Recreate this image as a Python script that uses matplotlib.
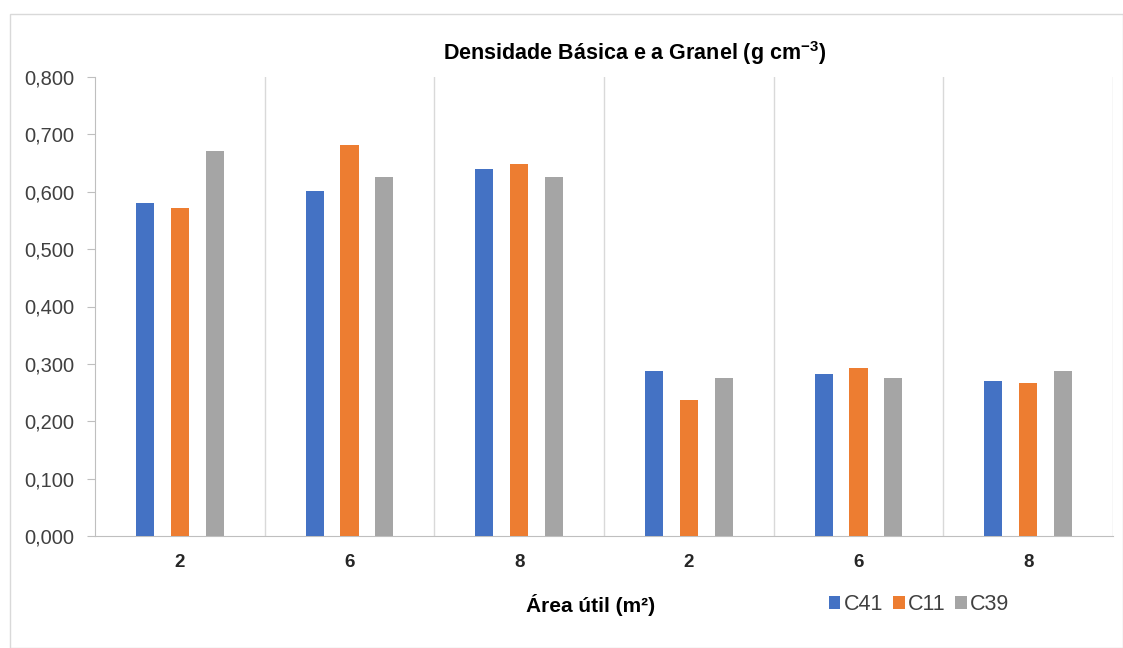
import matplotlib.pyplot as plt
import matplotlib.patches as patches
import numpy as np

categories = ["2", "6", "8", "2", "6", "8"]
series_names = ["C41", "C11", "C39"]
c41 = [0.581, 0.602, 0.640, 0.288, 0.283, 0.270]
c11 = [0.571, 0.681, 0.648, 0.237, 0.293, 0.267]
c39 = [0.671, 0.625, 0.625, 0.275, 0.275, 0.288]
colors = ["#4472C4", "#ED7D31", "#A5A5A5"]

plt.rcParams['font.family'] = ['Liberation Sans', 'DejaVu Sans']
plt.rcParams['mathtext.fontset'] = 'custom'
plt.rcParams['mathtext.rm'] = 'Liberation Sans'
plt.rcParams['mathtext.bf'] = 'Liberation Sans:bold'

fig = plt.figure(figsize=(11.23, 6.48), dpi=100)
ax = fig.add_axes([95/1123, 1-536/648, (1113-95)/1123, (536-77)/648])

# light frame round the chart
fig.patches.append(patches.Rectangle((10/1123, 0), 1-10/1123, 1-14/648, transform=fig.transFigure,
                                     fill=False, edgecolor="#D9D9D9", linewidth=1))

x = np.arange(len(categories))
off = 0.205
w = 0.107
for i, (vals, name) in enumerate(zip([c41, c11, c39], series_names)):
    ax.bar(x + (i-1)*off, vals, width=w, color=colors[i], label=name, zorder=3)

ax.set_xlim(-0.5, len(categories)-0.5)
ax.set_ylim(0, 0.8)
ax.set_yticks(np.arange(0, 0.81, 0.1))
ax.set_yticklabels([f"{v:.3f}".replace(".", ",") for v in np.arange(0, 0.81, 0.1)],
                   fontsize=14.5, color="#404040")
ax.tick_params(axis="y", length=6, color="#BFBFBF", pad=9)

ax.set_xticks(x)
ax.set_xticklabels(categories, fontsize=13.5, fontweight="bold", color="#262626")
ax.tick_params(axis="x", length=0, pad=13)

# vertical separators between groups
for b in np.arange(0.5, len(categories), 1):
    ax.axvline(b, color="#D9D9D9", linewidth=1, zorder=1)

for s in ["top", "right"]:
    ax.spines[s].set_visible(False)
ax.spines["left"].set_color("#BFBFBF")
ax.spines["bottom"].set_color("#BFBFBF")

fig.text(0.565, 1-53/648, r"Densidade Básica e a Granel (g cm$^{\mathbf{-3}}$)", ha="center", va="center",
         fontsize=15.5, fontweight="bold", color="#000000")
fig.text(591/1123, 1-605/648, "Área útil (m²)", ha="center", va="center",
         fontsize=15, fontweight="bold", color="#000000")

fig.legend(loc="center", bbox_to_anchor=(919/1123, 1-605/648), ncol=3, frameon=False,
           fontsize=15.5, handlelength=0.55, handleheight=0.55, handletextpad=0.15,
           columnspacing=0.45, labelcolor="#404040")

fig.savefig("out.png", dpi=100)
